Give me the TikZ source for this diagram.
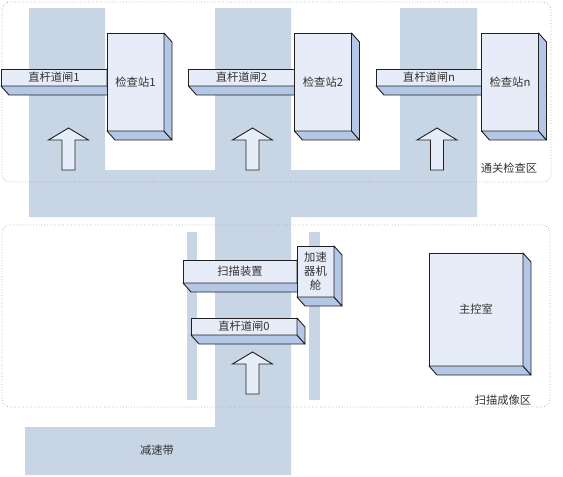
\documentclass[tikz,border=0pt]{standalone}
\usepackage{fontspec}
\newfontfamily\cjk{Noto Sans CJK SC}
\usetikzlibrary{calc}
\definecolor{road}{HTML}{C8D5E5}
\definecolor{facefront}{HTML}{E7EDF8}
\definecolor{faceside}{HTML}{B5C7E6}
\definecolor{edge}{HTML}{202020}

% bottom and right faces of a box node
\newcommand{\extrude}[1]{%
  \filldraw[sideface] (#1.south west) -- ($(#1.south west)+(8,9)$) -- ($(#1.south east)+(8,9)$) -- (#1.south east) -- cycle;
  \filldraw[sideface] (#1.south east) -- ($(#1.south east)+(8,9)$) -- ($(#1.north east)+(8,9)$) -- (#1.north east) -- cycle;}

\begin{document}
\begin{tikzpicture}[x=1pt,y=-1pt,
  zone/.style={draw=gray!70,dotted,line width=0.7pt,rounded corners=8pt},
  front/.style={draw=edge,fill=facefront,line width=0.9pt,inner sep=0pt,outer sep=0pt,
    font=\cjk\fontsize{11.3}{14}\selectfont,text=black!80},
  sideface/.style={draw=edge,fill=faceside,line width=0.9pt,line join=round},
  lbl/.style={font=\cjk\fontsize{11.3}{14}\selectfont,text=black!80,inner sep=0pt},
  uparr/.style={draw=edge,fill=facefront,line width=0.9pt,line join=miter}]

\useasboundingbox (0,0) rectangle (563,477);

% roads
\fill[road] (29,8) -- (105,8) -- (105,170) -- (215,170) -- (215,8) -- (291,8) -- (291,170)
  -- (400,170) -- (400,8) -- (477,8) -- (477,217) -- (291,217) -- (291,475) -- (25,475)
  -- (25,427) -- (215,427) -- (215,217) -- (29,217) -- cycle;
\fill[road] (187,232) rectangle (197,400);
\fill[road] (309,232) rectangle (320,400);

% zones
\draw[zone] (2,2) rectangle (551,182);
\draw[zone] (2,225) rectangle (550,407);
\node[lbl] (lcheck) at (509,168) {通关检查区};
\node[lbl] (lscan) at (503,400) {扫描成像区};
\node[lbl] (lbump) at (157,450) {减速带};

% gates, stations and lanes
\foreach \gt/\st/\gx/\sx/\ax/\n in {g1/s1/54/135.5/68.5/1, g2/s2/241.5/323/252.5/2, gn/sn/429/510/437/n}{
  \node[front,minimum width=106pt,minimum height=17pt] (\gt) at (\gx,77.5) {直杆道闸\n};
  \extrude{\gt}
  \node[front,minimum width=57pt,minimum height=98pt] (\st) at (\sx,82) {检查站\n};
  \extrude{\st}
  \draw[uparr] (\ax,170) ++(-6.5,0) -- ++(0,-30) -- ++(-13.5,0) -- ++(20,-12) -- ++(20,12)
    -- ++(-13.5,0) -- ++(0,30) -- cycle;
}

% scanning area
\node[front,minimum width=114pt,minimum height=23pt] (scan) at (240,271.5) {扫描装置};
\extrude{scan}
\node[front,minimum width=37pt,minimum height=51pt,align=center] (accel) at (315.5,271.5) {加速\\器机\\舱};
\extrude{accel}
\node[front,minimum width=106pt,minimum height=17pt] (g0) at (244,326.5) {直杆道闸0};
\extrude{g0}
\draw[uparr] (252.5,394) ++(-6.5,0) -- ++(0,-30) -- ++(-13.5,0) -- ++(20,-12) -- ++(20,12)
  -- ++(-13.5,0) -- ++(0,30) -- cycle;
\node[front,minimum width=94pt,minimum height=113pt] (ctrl) at (476,309.5) {主控室};
\extrude{ctrl}

\end{tikzpicture}
\end{document}
